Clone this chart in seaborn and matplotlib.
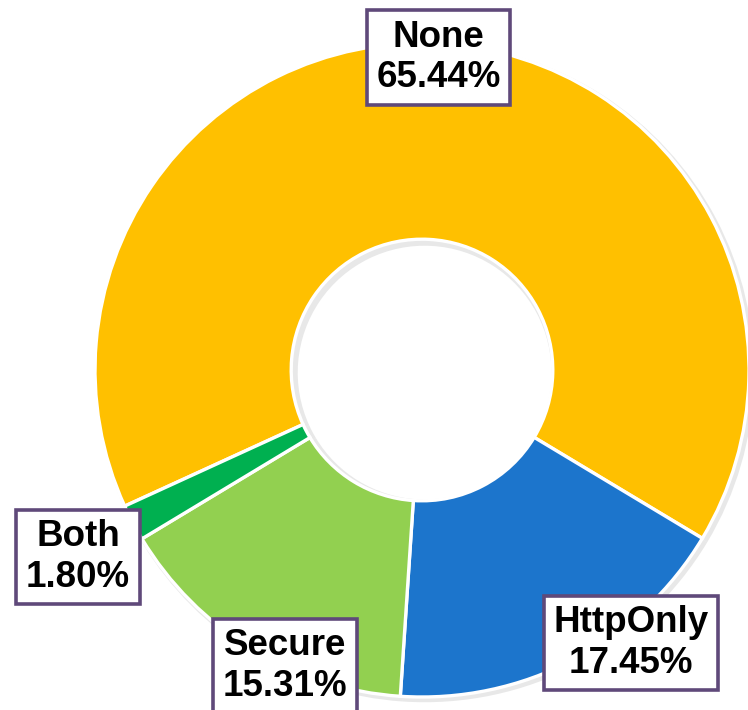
#cookie flag share donut
import matplotlib
matplotlib.use("Agg")
import matplotlib.pyplot as plt
import seaborn as sns
import numpy as np

# --- data ---
categories = ['None', 'HttpOnly', 'Secure', 'Both']
shares = [65.44, 17.45, 15.31, 1.80]
slice_colors = ['#FFC000', '#1C75CC', '#92D050', '#00B050']

# label box centres, in units of the outer radius from the ring centre
label_pos = {
    'None': (0.05, 0.955),
    'HttpOnly': (0.64, -0.835),
    'Secure': (-0.42, -0.905),
    'Both': (-1.052, -0.572),
}

sns.set_theme(style="white")
plt.rcParams['font.family'] = ['Liberation Sans', 'DejaVu Sans']

fig = plt.figure(figsize=(7.48, 7.10), dpi=100)
ax = fig.add_axes([0, 0, 1, 1])

palette = sns.color_palette(slice_colors)
wedges, _ = ax.pie(shares, colors=palette, startangle=204.6, counterclock=False,
                   radius=1.0,
                   wedgeprops=dict(width=0.6, edgecolor='white', linewidth=2.4))

# faint shadow behind the ring
for w in wedges:
    w.set_zorder(2)
ax.pie(shares, colors=['#d9d9d9'] * len(shares), startangle=204.6, counterclock=False,
       radius=1.008, center=(0.008, -0.008),
       wedgeprops=dict(width=0.62, edgecolor='none', alpha=0.6, zorder=1))

for name, val in zip(categories, shares):
    x, y = label_pos[name]
    ax.text(x, y, f"{name}\n{val:.2f}%", ha='center', va='center',
            fontsize=26.5, fontweight='bold', color='black', linespacing=1.2,
            zorder=5,
            bbox=dict(boxstyle='square,pad=0.26', facecolor='white',
                      edgecolor='#5F497A', linewidth=2.6))

# ring centre sits at (422, 370) px, outer radius 327 px
r_px = 327.0
ax.set_xlim(-422 / r_px, (748 - 422) / r_px)
ax.set_ylim(-(710 - 370) / r_px, 370 / r_px)
ax.set_aspect('auto')
ax.axis('off')

plt.savefig('out.png', dpi=100)
